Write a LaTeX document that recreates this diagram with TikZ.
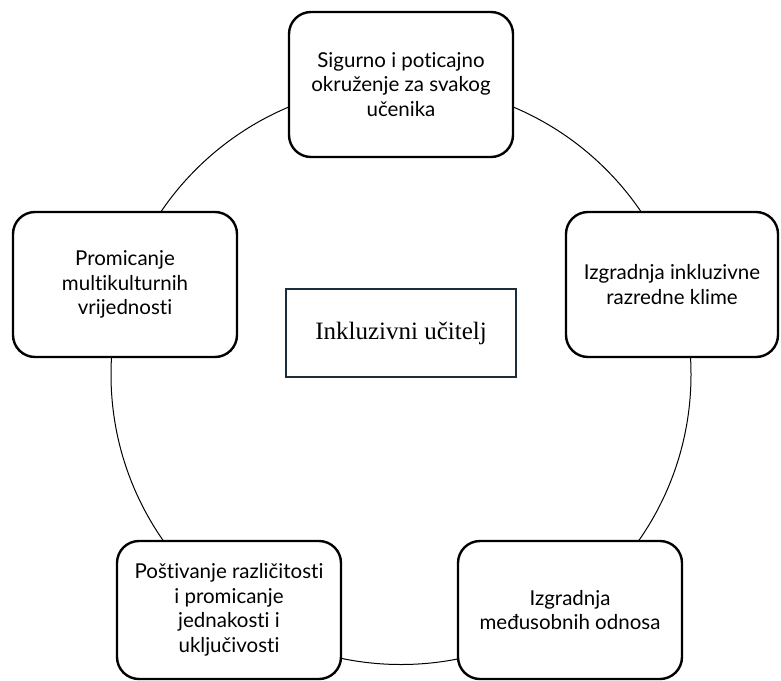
\documentclass[tikz,border=0pt]{standalone}
\usepackage{fontspec}
\setmainfont{Lato}[Ligatures=NoCommon]
\newfontfamily\serifface{Liberation Serif}
\usetikzlibrary{positioning}
\definecolor{framenavy}{RGB}{28,45,60}

\tikzset{
  cyclebox/.style={draw=black, line width=2.4pt, rounded corners=22pt, fill=white,
    align=center, font=\fontsize{20.5}{24.5}\selectfont,
    minimum width=224pt, minimum height=145pt, inner sep=0pt},
  centrebox/.style={draw=framenavy, line width=2.6pt, fill=white,
    font=\serifface\fontsize{25}{29}\selectfont,
    minimum width=230pt, minimum height=88pt}
}

\begin{document}
\begin{tikzpicture}[x=1pt,y=-1pt]
        \useasboundingbox (0,0) rectangle (781,680);
        % ring behind the boxes
        \coordinate (hub) at (401,374.5);
        \draw[line width=1pt] (hub) circle (290pt);
        % boxes on the ring
        \node[cyclebox] (sigurno) at (401,84.5) {Sigurno i poticajno\\okruženje za svakog\\učenika};
        \node[cyclebox, minimum width=212pt] (klima) at (672,284.5) {Izgradnja inkluzivne\\razredne klime};
        \node[cyclebox, minimum height=138pt] (odnosi) at (570,610) {Izgradnja\\međusobnih odnosa};
        \node[cyclebox, minimum height=138pt] (razlicitost) at (229,610) {Poštivanje različitosti\\i promicanje\\jednakosti i\\uključivosti};
        \node[cyclebox] (multi) at (125,284.5) {Promicanje\\multikulturnih\\vrijednosti};
        % centre
        \node[centrebox] (ucitelj) at (401,333) {Inkluzivni učitelj};
\end{tikzpicture}
\end{document}
